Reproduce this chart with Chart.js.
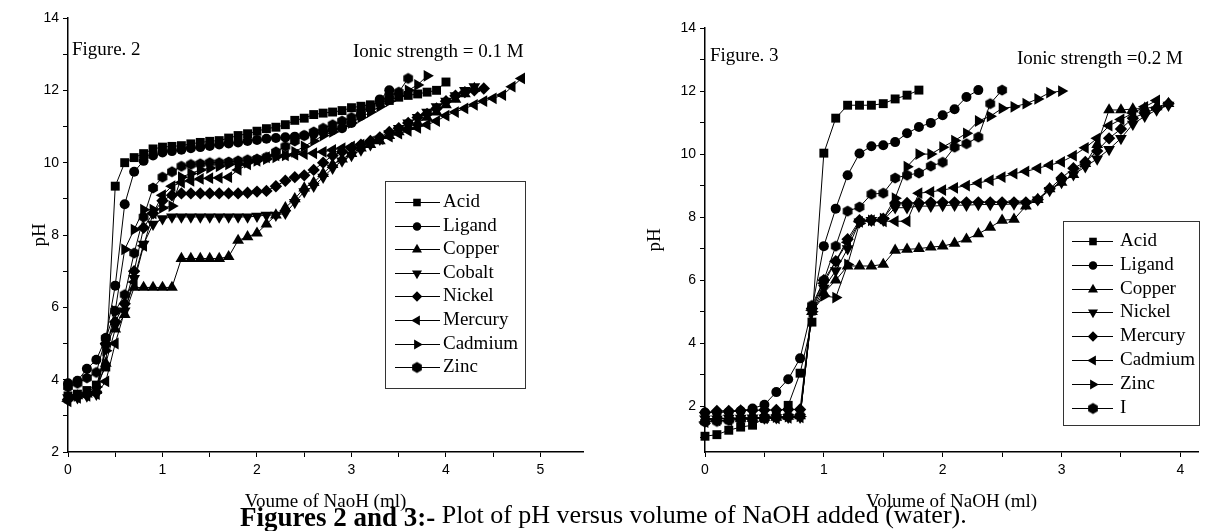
<!DOCTYPE html>
<html>
<head>
<meta charset="utf-8">
<title>pH versus volume of NaOH</title>
<script src="https://cdn.jsdelivr.net/npm/chart.js@4.4.1/dist/chart.umd.min.js"></script>
<style>
  body { margin: 0; background: #fff; }
  #page { position: relative; width: 1205px; height: 531px; overflow: hidden; font-family: "Liberation Serif", "Times New Roman", serif; color: #000; }
  canvas { position: absolute; top: 0; }
  #fig2 { left: 0; }
  #fig3 { left: 600px; }
  .note { position: absolute; font-size: 19px; line-height: 19px; white-space: nowrap; }
  #caption { position: absolute; left: 240px; top: 502px; font-size: 26px; line-height: 26px; white-space: nowrap; }
  #caption b { font-size: 27px; vertical-align: -3px; }
</style>
</head>
<body>
<div id="page">
  <canvas id="fig2" width="600" height="531"></canvas>
  <canvas id="fig3" width="605" height="531"></canvas>
  <div class="note" style="left:72px;top:39px">Figure. 2</div>
  <div class="note" style="left:353px;top:41px">Ionic strength = 0.1 M</div>
  <div class="note" style="left:710px;top:45px">Figure. 3</div>
  <div class="note" style="left:1017px;top:48px">Ionic strength =0.2 M</div>
  <div id="caption"><b>Figures 2 and 3:-</b> Plot of pH versus volume of NaOH added (water).</div>
</div>
<script>
// volume of NaOH (ml) for each titration point
const fig2Volume = [0, 0.1, 0.2, 0.3, 0.4, 0.5, 0.6, 0.7, 0.8, 0.9, 1.0, 1.1, 1.2, 1.3, 1.4, 1.5, 1.6, 1.7, 1.8, 1.9,
  2.0, 2.1, 2.2, 2.3, 2.4, 2.5, 2.6, 2.7, 2.8, 2.9, 3.0, 3.1, 3.2, 3.3, 3.4, 3.5, 3.6, 3.7, 3.8, 3.9,
  4.0, 4.1, 4.2, 4.3, 4.4, 4.5, 4.6, 4.7, 4.8];
const fig3Volume = [0, 0.1, 0.2, 0.3, 0.4, 0.5, 0.6, 0.7, 0.8, 0.9, 1.0, 1.1, 1.2, 1.3, 1.4, 1.5, 1.6, 1.7, 1.8, 1.9,
  2.0, 2.1, 2.2, 2.3, 2.4, 2.5, 2.6, 2.7, 2.8, 2.9, 3.0, 3.1, 3.2, 3.3, 3.4, 3.5, 3.6, 3.7, 3.8, 3.9];

// tick positions (labels only on whole ml and even pH)
const fig2XTicks = [0, 0.5, 1, 1.5, 2, 2.5, 3, 3.5, 4, 4.5, 5];
const fig3XTicks = [0, 0.5, 1, 1.5, 2, 2.5, 3, 3.5, 4];
const fig2YTicks = [2, 3, 4, 5, 6, 7, 8, 9, 10, 11, 12, 13, 14];
const fig3YTicks = [1, 2, 3, 4, 5, 6, 7, 8, 9, 10, 11, 12, 13, 14];

// Figure 2, ionic strength 0.1 M (pH)
const acid2 = [3.55, 3.6, 3.7, 3.85, 4.35, 9.35, 10.0, 10.14, 10.25, 10.38, 10.43, 10.45, 10.47, 10.52, 10.56, 10.59, 10.61, 10.68, 10.75, 10.8,
  10.87, 10.94, 10.98, 11.05, 11.17, 11.23, 11.33, 11.37, 11.4, 11.44, 11.52, 11.56, 11.6, 11.67, 11.72, 11.81, 11.86, 11.9, 11.95, 12.0, 12.23];
const ligand2 = [3.9, 3.97, 4.3, 4.55, 5.15, 6.6, 8.85, 9.75, 10.05, 10.2, 10.28, 10.32, 10.36, 10.4, 10.43, 10.46, 10.5, 10.53, 10.56, 10.6,
  10.63, 10.66, 10.68, 10.7, 10.72, 10.75, 10.8, 10.85, 10.9, 10.95, 11.1, 11.3, 11.5, 11.75, 12.0];
const copper2 = [3.5, 3.55, 3.6, 3.7, 4.45, 5.4, 5.8, 6.55, 6.55, 6.55, 6.55, 6.55, 7.35, 7.35, 7.35, 7.35, 7.35, 7.4, 7.85, 7.95,
  8.05, 8.3, 8.55, 8.75, 9.0, 9.3, 9.45, 9.7, 9.95, 10.1, 10.25, 10.4, 10.5, 10.6, 10.75, 10.85, 11.0, 11.1, 11.25, 11.4,
  11.6, 11.75, 11.9, 12.05];
const cobalt2 = [3.5, 3.5, 3.55, 3.6, 4.9, 5.5, 5.9, 6.8, 7.75, 8.3, 8.45, 8.5, 8.5, 8.5, 8.5, 8.5, 8.5, 8.5, 8.5, 8.5,
  8.52, 8.55, 8.55, 8.6, 8.9, 9.2, 9.35, 9.6, 9.85, 10.05, 10.2, 10.35, 10.5, 10.65, 10.8, 10.95, 11.1, 11.25, 11.4, 11.55,
  11.7, 11.85, 12.0, 12.1];
const nickel2 = [3.45, 3.55, 3.6, 3.65, 5.0, 5.6, 6.1, 7.0, 8.2, 8.6, 8.95, 9.1, 9.15, 9.15, 9.15, 9.15, 9.15, 9.15, 9.15, 9.17,
  9.2, 9.22, 9.35, 9.5, 9.6, 9.65, 9.8, 10.0, 10.2, 10.3, 10.4, 10.5, 10.6, 10.7, 10.85, 10.95, 11.1, 11.25, 11.35, 11.5,
  11.7, 11.85, 11.95, 12.0, 12.05];
const mercury2 = [3.4, 3.5, 3.55, 3.6, 3.95, 5.0, 5.9, 6.7, 7.7, 8.6, 9.1, 9.35, 9.45, 9.5, 9.55, 9.57, 9.58, 9.6, 9.8, 9.95,
  10.05, 10.15, 10.2, 10.2, 10.22, 10.24, 10.26, 10.3, 10.35, 10.4, 10.45, 10.5, 10.58, 10.65, 10.72, 10.8, 10.88, 10.96, 11.05, 11.15,
  11.3, 11.4, 11.5, 11.6, 11.7, 11.78, 11.87, 12.1, 12.33];
const cadmium2 = [3.5, 3.55, 3.65, 3.8, 4.8, 5.9, 7.6, 8.15, 8.7, 8.7, 8.75, 8.8, 9.6, 9.7, 9.8, 9.85, 9.9, 9.95, 9.95, 10.0,
  10.05, 10.1, 10.15, 10.2, 10.3, 10.45, 10.6, 10.75, 10.85, 11.0, 11.1, 11.25, 11.4, 11.55, 11.7, 11.85, 12.0, 12.15, 12.4];
const zinc2 = [3.8, 3.9, 4.05, 4.2, 5.15, 5.9, 6.35, 7.5, 8.5, 9.3, 9.6, 9.75, 9.9, 9.95, 9.97, 10.0, 10.0, 10.02, 10.05, 10.08,
  10.1, 10.15, 10.3, 10.45, 10.6, 10.75, 10.85, 10.95, 11.05, 11.15, 11.25, 11.4, 11.55, 11.7, 11.85, 11.95, 12.33];

// Figure 3, ionic strength 0.2 M (pH)
const acid3 = [1.05, 1.1, 1.24, 1.34, 1.4, 1.62, 1.75, 2.03, 3.05, 4.67, 10.03, 11.14, 11.55, 11.55, 11.55, 11.6, 11.75, 11.87, 12.03];
const ligand3 = [1.8, 1.8, 1.82, 1.85, 1.93, 2.05, 2.45, 2.86, 3.52, 5.1, 7.08, 8.27, 9.33, 10.02, 10.25, 10.28, 10.38, 10.66, 10.86, 10.99,
  11.23, 11.42, 11.81, 12.03];
const copper3 = [1.55, 1.6, 1.6, 1.62, 1.62, 1.65, 1.65, 1.68, 1.7, 5.0, 5.6, 6.0, 6.45, 6.45, 6.45, 6.5, 6.95, 6.98, 7.0, 7.05,
  7.08, 7.17, 7.3, 7.47, 7.68, 7.9, 7.93, 8.35, 8.56, 8.9, 9.1, 9.35, 9.7, 10.3, 11.4, 11.4, 11.43, 11.45, 11.5, 11.6];
const nickel3 = [1.6, 1.6, 1.62, 1.62, 1.63, 1.63, 1.64, 1.65, 1.65, 5.0, 5.75, 6.3, 7.0, 7.85, 7.9, 7.9, 8.3, 8.3, 8.35, 8.35,
  8.37, 8.38, 8.38, 8.4, 8.4, 8.4, 8.42, 8.42, 8.55, 8.85, 9.1, 9.35, 9.6, 9.85, 10.15, 10.5, 10.95, 11.2, 11.4, 11.55];
const mercury3 = [1.8, 1.85, 1.85, 1.87, 1.87, 1.88, 1.88, 1.9, 1.9, 5.1, 6.0, 6.6, 7.3, 7.9, 7.9, 7.95, 8.45, 8.45, 8.45, 8.47,
  8.47, 8.47, 8.47, 8.47, 8.47, 8.47, 8.47, 8.47, 8.56, 8.9, 9.24, 9.55, 9.75, 10.1, 10.5, 10.8, 11.14, 11.3, 11.45, 11.6];
const cadmium3 = [1.5, 1.55, 1.55, 1.6, 1.6, 1.62, 1.62, 1.63, 1.65, 5.05, 5.9, 6.6, 7.2, 7.85, 7.9, 7.87, 7.87, 7.87, 8.76, 8.8,
  8.86, 8.93, 9.0, 9.08, 9.17, 9.27, 9.38, 9.45, 9.55, 9.65, 9.75, 9.95, 10.2, 10.5, 10.9, 11.1, 11.3, 11.5, 11.7];
const zinc3 = [1.6, 1.62, 1.62, 1.63, 1.64, 1.65, 1.66, 1.67, 1.68, 5.0, 5.5, 5.45, 6.5, 7.8, 7.9, 7.95, 8.6, 9.6, 10.0, 10.0,
  10.22, 10.43, 10.66, 11.05, 11.2, 11.45, 11.5, 11.6, 11.75, 11.95, 12.0];
const i3 = [1.5, 1.52, 1.55, 1.58, 1.6, 1.62, 1.65, 1.68, 1.7, 5.2, 6.0, 7.08, 8.19, 8.32, 8.73, 8.76, 9.24, 9.33, 9.4, 9.62,
  9.74, 10.22, 10.33, 10.54, 11.6, 12.03];

// hexagon marker (Chart.js has none built in)
function hexagon(r) {
  const c = document.createElement('canvas');
  c.width = c.height = Math.ceil(2 * r) + 2;
  const g = c.getContext('2d');
  const m = c.width / 2;
  g.beginPath();
  for (let k = 0; k < 6; k++) {
    const a = Math.PI / 3 * k - Math.PI / 2;
    g.lineTo(m + r * Math.cos(a), m + r * Math.sin(a));
  }
  g.closePath();
  g.fillStyle = '#000';
  g.fill();
  return c;
}

const marks = {
  square: { pointStyle: 'rect', pointRotation: 0, pointRadius: 6.3 },
  circle: { pointStyle: 'circle', pointRotation: 0, pointRadius: 5 },
  up: { pointStyle: 'triangle', pointRotation: 0, pointRadius: 6.8 },
  down: { pointStyle: 'triangle', pointRotation: 180, pointRadius: 6.8 },
  diamond: { pointStyle: 'rectRot', pointRotation: 0, pointRadius: 6.2 },
  left: { pointStyle: 'triangle', pointRotation: 270, pointRadius: 6.8 },
  right: { pointStyle: 'triangle', pointRotation: 90, pointRadius: 6.8 },
  hex: { pointStyle: hexagon(5.6), pointRotation: 0, pointRadius: 5.6 }
};

// legend box drawn inside the plot like the original
const boxLegend = {
  id: 'boxLegend',
  afterDatasetsDraw(chart, args, o) {
    const ctx = chart.ctx;
    ctx.save();
    ctx.fillStyle = '#fff';
    ctx.fillRect(o.left, o.top, o.width, o.height);
    ctx.strokeStyle = '#333';
    ctx.lineWidth = 1;
    ctx.strokeRect(o.left + 0.5, o.top + 0.5, o.width, o.height);
    ctx.font = '19px "Liberation Serif", serif';
    ctx.textBaseline = 'middle';
    chart.data.datasets.forEach((ds, k) => {
      const y = Math.round(o.top + o.first + k * o.step) + 0.5;
      ctx.strokeStyle = '#000';
      ctx.fillStyle = '#000';
      ctx.beginPath();
      ctx.moveTo(o.left + o.lineFrom, y);
      ctx.lineTo(o.left + o.lineTo, y);
      ctx.stroke();
      Chart.helpers.drawPoint(ctx, {
        pointStyle: ds.pointStyle, rotation: ds.pointRotation, radius: ds.pointRadius * 0.85, borderWidth: 0
      }, o.left + o.mark, y);
      ctx.fillText(ds.label, o.left + o.text, y);
    });
    ctx.restore();
  }
};

function makeChart(id, volumes, series, cfg) {
  const tickFont = { family: '"Liberation Sans", Arial, sans-serif', size: 14 };
  const titleFont = { family: '"Liberation Serif", serif', size: 19 };
  return new Chart(document.getElementById(id), {
    type: 'line',
    data: {
      datasets: series.map(s => Object.assign({
        label: s.label,
        data: s.values.map((v, k) => ({ x: volumes[k], y: v })),
        borderColor: '#000',
        borderWidth: 1,
        backgroundColor: '#000',
        pointBackgroundColor: '#000',
        pointBorderColor: '#000',
        pointBorderWidth: 0,
        tension: 0,
        clip: false
      }, marks[s.mark]))
    },
    options: {
      responsive: false,
      animation: false,
      events: [],
      layout: { padding: cfg.padding },
      plugins: {
        legend: { display: false },
        tooltip: { enabled: false },
        boxLegend: cfg.legend
      },
      scales: {
        x: {
          type: 'linear',
          position: 'bottom',
          min: 0,
          max: cfg.xMax,
          afterFit: s => { s.height = 79; },
          afterBuildTicks: s => { s.ticks = cfg.xTicks.map(v => ({ value: v })); },
          ticks: {
            color: '#000',
            font: tickFont,
            padding: 5,
            maxRotation: 0,
            autoSkip: false,
            callback: v => (Number.isInteger(v) ? v : '')
          },
          grid: { drawOnChartArea: false, drawTicks: true, tickLength: 5, tickColor: '#000', color: '#000' },
          border: { color: '#000', width: 1.5 },
          title: { display: true, text: cfg.xTitle, color: '#000', font: titleFont, padding: { top: 0, bottom: 17.6 } }
        },
        y: {
          min: cfg.yMin,
          max: 14,
          afterFit: s => { s.width = cfg.yWidth; },
          afterBuildTicks: s => { s.ticks = cfg.yTicks.map(v => ({ value: v })); },
          ticks: {
            color: '#000',
            font: tickFont,
            padding: 4,
            autoSkip: false,
            callback: v => (v % 2 === 0 ? v : '')
          },
          grid: { drawOnChartArea: false, drawTicks: true, tickLength: 5, tickColor: '#000', color: '#000' },
          border: { color: '#000', width: 1.5 },
          title: { display: true, text: 'pH', color: '#000', font: titleFont, padding: { top: cfg.yTitlePad, bottom: 0 } }
        }
      }
    },
    plugins: [boxLegend]
  });
}

makeChart('fig2', fig2Volume, [
  { label: 'Acid', values: acid2, mark: 'square' },
  { label: 'Ligand', values: ligand2, mark: 'circle' },
  { label: 'Copper', values: copper2, mark: 'up' },
  { label: 'Cobalt', values: cobalt2, mark: 'down' },
  { label: 'Nickel', values: nickel2, mark: 'diamond' },
  { label: 'Mercury', values: mercury2, mark: 'left' },
  { label: 'Cadmium', values: cadmium2, mark: 'right' },
  { label: 'Zinc', values: zinc2, mark: 'hex' }
], {
  padding: { left: 0, top: 18, right: 17, bottom: 0 },
  yWidth: 68, yMin: 2, xMax: 5.45, yTitlePad: 28.6,
  xTicks: fig2XTicks, yTicks: fig2YTicks,
  xTitle: 'Voume of NaoH (ml)',
  legend: { left: 385, top: 181, width: 140, height: 207, first: 21, step: 23.6, lineFrom: 10, lineTo: 55, mark: 32, text: 58 }
});

makeChart('fig3', fig3Volume, [
  { label: 'Acid', values: acid3, mark: 'square' },
  { label: 'Ligand', values: ligand3, mark: 'circle' },
  { label: 'Copper', values: copper3, mark: 'up' },
  { label: 'Nickel', values: nickel3, mark: 'down' },
  { label: 'Mercury', values: mercury3, mark: 'diamond' },
  { label: 'Cadmium', values: cadmium3, mark: 'left' },
  { label: 'Zinc', values: zinc3, mark: 'right' },
  { label: 'I', values: i3, mark: 'hex' }
], {
  padding: { left: 0, top: 28, right: 4, bottom: 0 },
  yWidth: 105, yMin: 0.55, xMax: 4.15, yTitlePad: 43.6,
  xTicks: fig3XTicks, yTicks: fig3YTicks,
  xTitle: 'Volume of NaOH (ml)',
  legend: { left: 463, top: 221, width: 136, height: 204, first: 20, step: 23.8, lineFrom: 9, lineTo: 50, mark: 30, text: 57 }
});
</script>
</body>
</html>
